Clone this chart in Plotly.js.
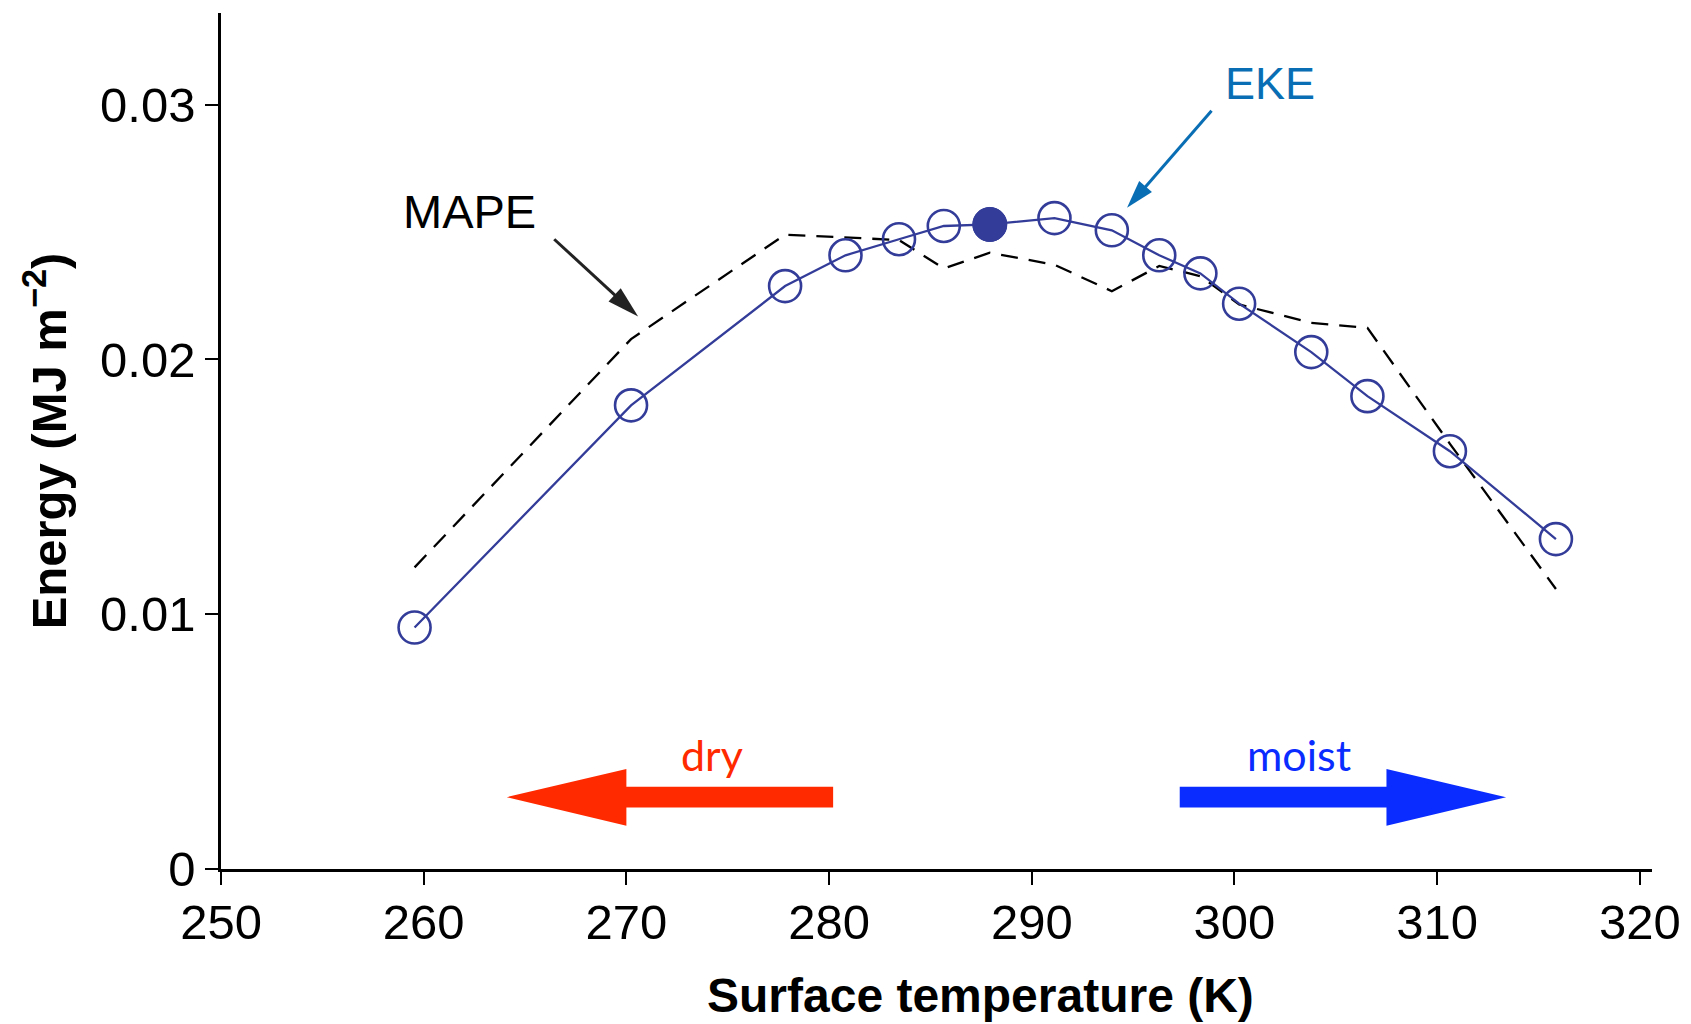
<!DOCTYPE html>
<html>
<head>
<meta charset="utf-8">
<script src="https://cdn.plot.ly/plotly-3.0.1.min.js"></script>
<style>html,body{margin:0;padding:0;background:#fff;}#chart{width:1691px;height:1024px;}</style>
</head>
<body>
<div id="chart"></div>
<script>
// Surface temperature (K) of each simulation
const temperature = [259.55, 270.23, 277.83, 280.81, 283.45, 285.66, 287.93, 291.12, 293.95, 296.29, 298.32, 300.23, 303.79, 306.56, 310.63, 315.86];
// Eddy kinetic energy (MJ m^-2)
const eke = [0.00948, 0.01820, 0.02288, 0.02409, 0.02472, 0.02524, 0.02530, 0.02555, 0.02507, 0.02409, 0.02338, 0.02219, 0.02029, 0.01856, 0.01640, 0.01295];
// Mean available potential energy (MJ m^-2)
const mape = [0.01184, 0.02080, 0.02490, 0.02478, 0.02469, 0.02357, 0.02419, 0.02372, 0.02268, 0.02367, 0.02327, 0.02216, 0.02144, 0.02124, 0.01669, 0.01099];
// Reference (present-day-like) simulation
const refTemperature = [287.93];
const refEke = [0.02530];
// Axis ticks
const xTicks = [250, 260, 270, 280, 290, 300, 310, 320];
const yTicks = [0, 0.01, 0.02, 0.03];
const yTickLabels = ['0', '0.01', '0.02', '0.03'];

const navy = '#333d99';
const ekeBlue = '#0a6eb4';
const helv = 'Liberation Sans, Arial, Helvetica, sans-serif';
const tickFont = {family: helv, size: 49, color: '#000'};
const titleFont = {family: helv, size: 49, color: '#000', weight: 'bold'};
const gill = 'Lato, "Open Sans", sans-serif';

const traces = [
  {x: temperature, y: mape, mode: 'lines', type: 'scatter', name: 'MAPE',
   line: {color: '#000', width: 2.3, dash: '17px,11px'}},
  {x: temperature, y: eke, mode: 'lines+markers', type: 'scatter', name: 'EKE',
   line: {color: navy, width: 2.3},
   marker: {symbol: 'circle-open', size: 32, color: navy, line: {color: navy, width: 2.6}}},
  {x: refTemperature, y: refEke, mode: 'markers', type: 'scatter', name: 'reference',
   marker: {symbol: 'circle', size: 34, color: navy, line: {color: navy, width: 1}}}
];

const layout = {
  width: 1691, height: 1024,
  margin: {l: 221, r: 39, t: 13, b: 155},
  paper_bgcolor: '#fff', plot_bgcolor: '#fff',
  showlegend: false,
  xaxis: {
    range: [250, 320.6], tickvals: xTicks, ticktext: xTicks.map(String),
    showgrid: false, zeroline: false, showline: true, linecolor: '#000', linewidth: 2.8,
    ticks: 'outside', ticklen: 13, tickwidth: 2, tickcolor: '#000',
    tickfont: tickFont, ticklabelstandoff: -5
  },
  yaxis: {
    range: [0, 0.0336], tickvals: yTicks, ticktext: yTickLabels,
    showgrid: false, zeroline: false, showline: true, linecolor: '#000', linewidth: 2.8,
    ticks: 'outside', ticklen: 13, tickwidth: 2, tickcolor: '#000',
    tickfont: tickFont, ticklabelstandoff: 0,
    title: {text: 'Energy (MJ m<sup>\u22122</sup>)', font: titleFont, standoff: 18}
  },
  shapes: [
    // dry arrow (pointing left)
    {type: 'path', xref: 'x', yref: 'y', line: {width: 0}, fillcolor: '#ff2a00',
     path: 'M 264.1 0.00282 L 270.0 0.00393 L 270.0 0.00323 L 280.2 0.00323 L 280.2 0.00241 L 270.0 0.00241 L 270.0 0.00170 Z'},
    // moist arrow (pointing right)
    {type: 'path', xref: 'x', yref: 'y', line: {width: 0}, fillcolor: '#0a2cff',
     path: 'M 313.4 0.00282 L 307.5 0.00393 L 307.5 0.00323 L 297.3 0.00323 L 297.3 0.00241 L 307.5 0.00241 L 307.5 0.00170 Z'},
    // MAPE pointer
    {type: 'line', xref: 'x', yref: 'y', x0: 266.44, y0: 0.02472, x1: 269.50, y1: 0.02248,
     line: {color: '#222', width: 3}},
    {type: 'path', xref: 'x', yref: 'y', line: {width: 0}, fillcolor: '#222',
     path: 'M 270.58 0.02169 L 269.12 0.02228 L 269.72 0.02280 Z'},
    // EKE pointer
    {type: 'line', xref: 'x', yref: 'y', x0: 298.87, y0: 0.02976, x1: 295.55, y1: 0.02672,
     line: {color: ekeBlue, width: 3}},
    {type: 'path', xref: 'x', yref: 'y', line: {width: 0}, fillcolor: ekeBlue,
     path: 'M 294.70 0.02596 L 295.93 0.02657 L 295.30 0.02701 Z'}
  ],
  annotations: [
    {x: 262.24, y: 0.02582, xref: 'x', yref: 'y', text: 'MAPE', showarrow: false,
     font: {family: helv, size: 47, color: '#000'}},
    {x: 301.73, y: 0.03084, xref: 'x', yref: 'y', text: 'EKE', showarrow: false,
     font: {family: helv, size: 45, color: ekeBlue}},
    {x: 274.2, y: 0.00448, xref: 'x', yref: 'y', text: 'dry', showarrow: false,
     font: {family: gill, size: 43, color: '#ff2a00'}},
    {x: 303.16, y: 0.00448, xref: 'x', yref: 'y', text: 'moist', showarrow: false,
     font: {family: gill, size: 43, color: '#0a2cff'}},
    {x: 0.5304, y: -0.148, xref: 'paper', yref: 'paper', xanchor: 'center', yanchor: 'middle',
     text: 'Surface temperature (K)', showarrow: false, font: {family: helv, size: 48, color: '#000', weight: 'bold'}}
  ]
};

Plotly.newPlot('chart', traces, layout, {displayModeBar: false, staticPlot: true});
</script>
</body>
</html>
